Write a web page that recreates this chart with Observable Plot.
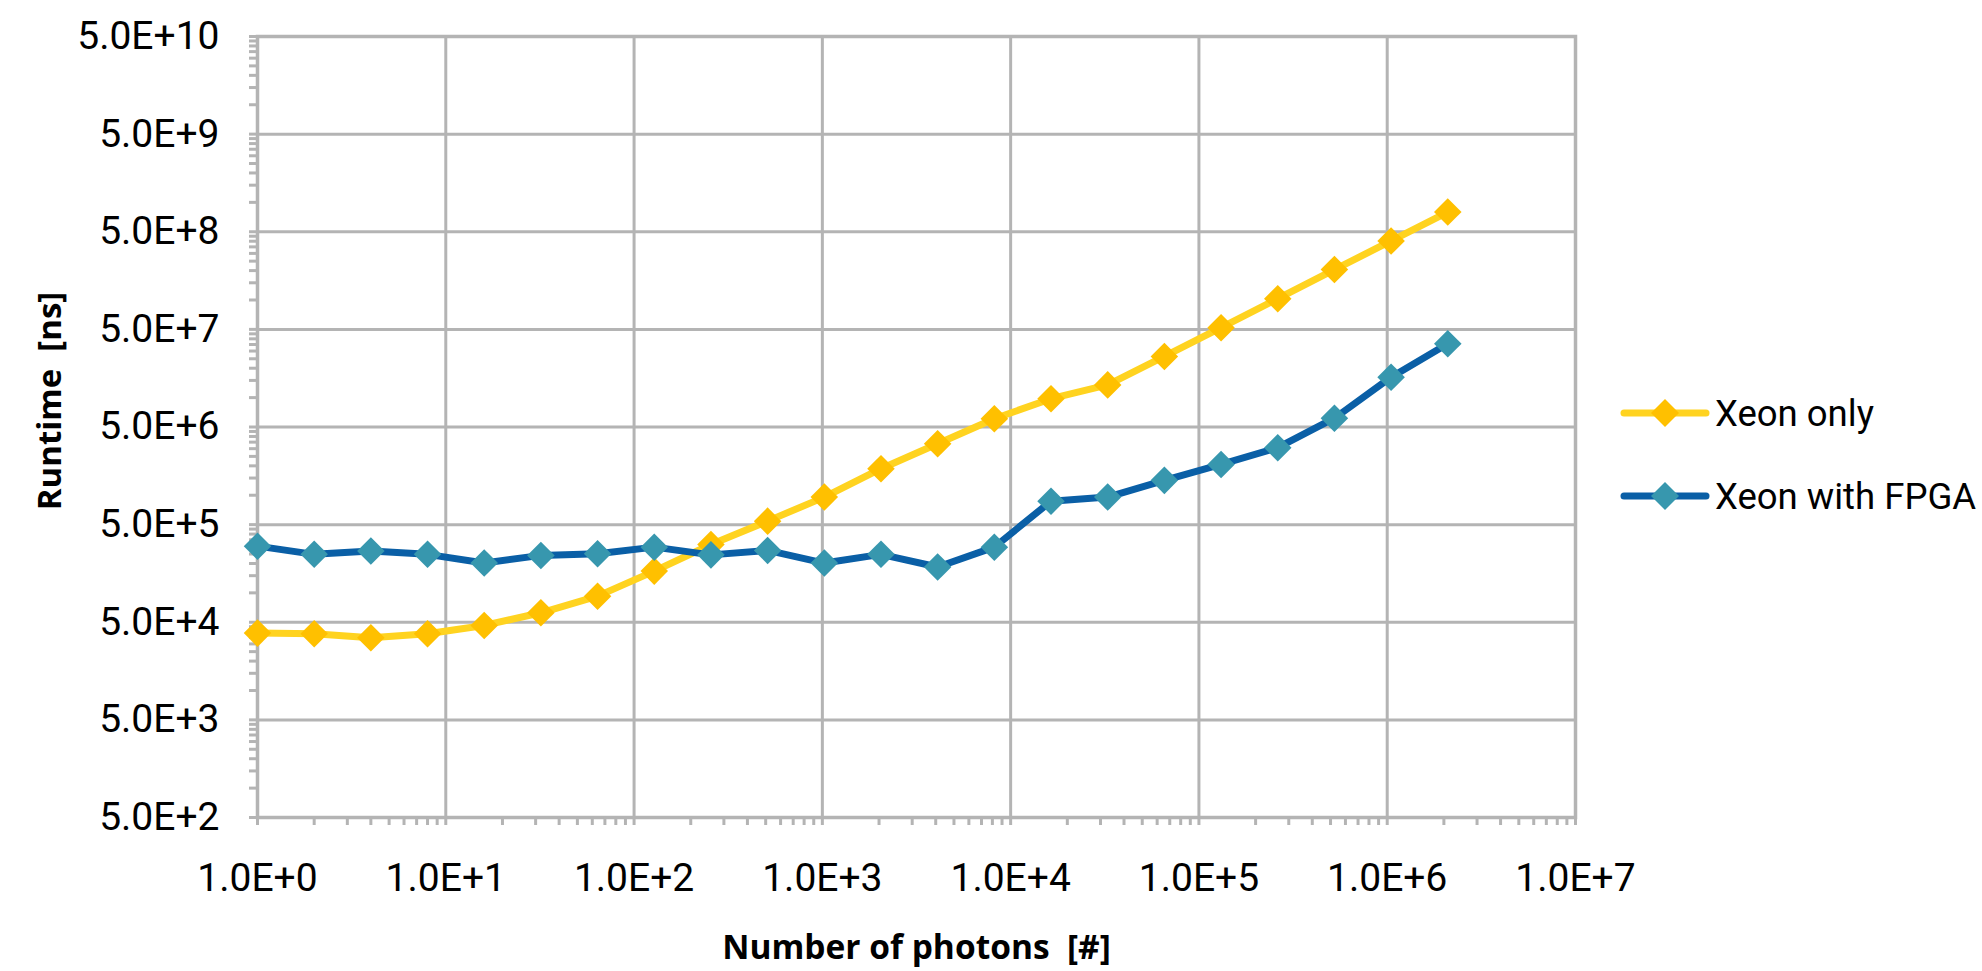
<!DOCTYPE html>
<html>
<head>
<meta charset="utf-8">
<script src="https://cdn.jsdelivr.net/npm/d3@7"></script>
<script src="https://cdn.jsdelivr.net/npm/@observablehq/plot@0.6"></script>
<style>
  html, body { margin: 0; padding: 0; background: #fff; }
  #wrap { position: relative; width: 1982px; height: 971px; overflow: hidden; }
  .legend { position: absolute; left: 0; top: 0; font-family: Roboto, sans-serif; font-size: 36.5px; color: #000; }
  .legend .row { position: absolute; display: flex; align-items: center; white-space: nowrap; height: 40px; }
  .legend svg { display: block; margin-right: 5px; }
</style>
</head>
<body>
<div id="wrap"></div>
<script>
// ---- data ----
const photons = [1, 2, 4, 8, 16, 32, 64, 128, 256, 512, 1024, 2048, 4096, 8192, 16384, 32768, 65536, 131072, 262144, 524288, 1048576, 2097152];
const xeonOnly = [38700, 38100, 34700, 38100, 46400, 62500, 92500, 167000, 313000, 543000, 957000, 1870000, 3370000, 6080000, 9750000, 13500000, 26400000, 52000000, 103000000, 205000000, 402000000, 796000000];
const xeonFPGA = [301000, 248000, 268000, 248000, 202000, 242000, 252000, 294000, 245000, 272000, 202000, 248000, 184000, 294000, 870000, 957000, 1420000, 2070000, 3070000, 6150000, 16200000, 35700000];
const seriesNames = ["Xeon only", "Xeon with FPGA"];
const lineColors = ["#FFD320", "#0A5FA6"];
const markerColors = ["#FFC000", "#3797AE"];

const xTickValues = [1, 10, 100, 1e3, 1e4, 1e5, 1e6, 1e7];
const xTickLabels = ["1.0E+0", "1.0E+1", "1.0E+2", "1.0E+3", "1.0E+4", "1.0E+5", "1.0E+6", "1.0E+7"];
const yTickValues = [5e2, 5e3, 5e4, 5e5, 5e6, 5e7, 5e8, 5e9, 5e10];
const yTickLabels = ["5.0E+2", "5.0E+3", "5.0E+4", "5.0E+5", "5.0E+6", "5.0E+7", "5.0E+8", "5.0E+9", "5.0E+10"];
const xLabel = "Number of photons\u00a0\u00a0[#]";
const yLabel = "Runtime\u00a0\u00a0[ns]";
const minorMultipliers = [1, 2, 3, 4, 5, 6, 7, 8, 9];

// ---- build ----
const gray = "#b4b4b4";
const xMinor = xTickValues.flatMap((v, i) => i < xTickValues.length - 1 ? minorMultipliers.map(k => v * k) : [v]);
const yMinor = yTickValues.flatMap((v, i) => i < yTickValues.length - 1 ? minorMultipliers.map(k => v * k) : [v]);

const seriesValues = [xeonOnly, xeonFPGA];
const rows = seriesValues.map((vals, s) => photons.map((p, i) => ({series: seriesNames[s], photons: p, runtime: vals[i]})));

const seriesMarks = rows.flatMap((data, s) => [
  Plot.line(data, {x: "photons", y: "runtime", stroke: lineColors[s], strokeWidth: 7, strokeLinejoin: "round", strokeLinecap: "round"}),
  Plot.dot(data, {x: "photons", y: "runtime", symbol: "diamond2", r: 12.4, fill: markerColors[s], stroke: "none"})
]);

const chart = Plot.plot({
  width: 1982,
  height: 971,
  marginLeft: 257,
  marginRight: 407,
  marginTop: 36,
  marginBottom: 154,
  style: {fontFamily: "Roboto, sans-serif", fontSize: "39px", color: "#000", background: "#fff", overflow: "visible"},
  x: {type: "log", domain: [1, 1e7]},
  y: {type: "log", domain: [5e2, 5e10]},
  marks: [
    Plot.gridX(xTickValues, {stroke: gray, strokeOpacity: 1, strokeWidth: 3}),
    Plot.gridY(yTickValues, {stroke: gray, strokeOpacity: 1, strokeWidth: 3}),
    Plot.frame({stroke: gray, strokeWidth: 3.5}),
    Plot.axisX(xMinor, {anchor: "bottom", tickSize: 8, tickFormat: () => "", stroke: gray, strokeWidth: 3, label: null}),
    Plot.axisY(yMinor, {anchor: "left", tickSize: 8, tickFormat: () => "", stroke: gray, strokeWidth: 3, label: null}),
    Plot.axisX(xTickValues, {anchor: "bottom", tickSize: 0, tickPadding: 46, tickFormat: d => xTickLabels[xTickValues.indexOf(d)], label: null}),
    Plot.text(yTickValues, {y: d => d, text: d => yTickLabels[yTickValues.indexOf(d)], frameAnchor: "left", textAnchor: "end", dx: -38, fontSize: 39, fill: "#000"}),
    ...seriesMarks,
    Plot.text([yLabel], {frameAnchor: "left", textAnchor: "middle", rotate: -90, dx: -207, dy: -26, fontWeight: "bold", fontSize: 33, fontFamily: "'Open Sans', sans-serif", fill: "#000"}),
    Plot.text([xLabel], {frameAnchor: "bottom", textAnchor: "middle", dy: 141, fontWeight: "bold", fontSize: 33.5, fontFamily: "'Open Sans', sans-serif", fill: "#000"})
  ]
});

const wrap = document.getElementById("wrap");
wrap.appendChild(chart);

// ---- legend ----
const legend = document.createElement("div");
legend.className = "legend";
const legendTops = [393, 476];
seriesNames.forEach((name, s) => {
  const row = document.createElement("div");
  row.className = "row";
  row.style.left = "1620px";
  row.style.top = legendTops[s] + "px";
  row.innerHTML =
    `<svg width="90" height="40" viewBox="0 0 90 40">
       <line x1="4" y1="20" x2="86" y2="20" stroke="${lineColors[s]}" stroke-width="7" stroke-linecap="round"/>
       <polygon points="45,6 59,20 45,34 31,20" fill="${markerColors[s]}"/>
     </svg><span>${name}</span>`;
  legend.appendChild(row);
});
wrap.appendChild(legend);
</script>
</body>
</html>
